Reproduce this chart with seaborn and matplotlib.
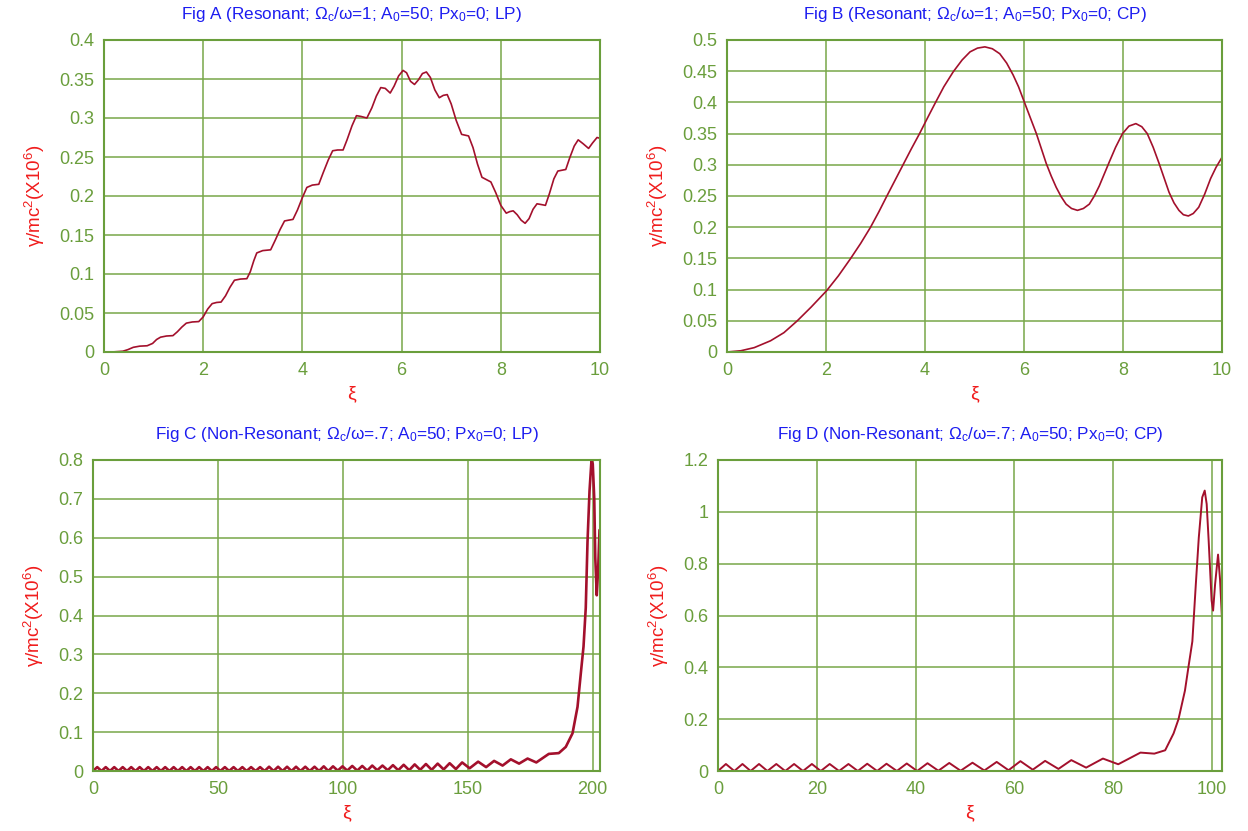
#!/usr/bin/env python3
# Four gamma vs xi panels (resonant / non-resonant, LP / CP), gnuplot look

import pandas as pd
import matplotlib
matplotlib.use('Agg')
import matplotlib.pyplot as plt
import seaborn as sns

# ---- Fig A: resonant, LP
xi_a = [0, 0.2, 0.38, 0.48, 0.59, 0.72, 0.87, 0.98, 1.06, 1.14, 1.26, 1.39, 1.48, 1.57,
        1.66, 1.78, 1.91, 2.0, 2.09, 2.18, 2.27, 2.36, 2.45, 2.54, 2.63, 2.75, 2.88,
        2.95, 3.02, 3.08, 3.2, 3.36, 3.45, 3.55, 3.64, 3.72, 3.81, 3.9, 4.0, 4.09,
        4.2, 4.33, 4.42, 4.52, 4.61, 4.71, 4.82, 4.9, 5.0, 5.09, 5.18, 5.30, 5.4,
        5.49, 5.58, 5.67, 5.77, 5.85, 5.94, 6.03, 6.1, 6.18, 6.26, 6.34, 6.42, 6.50,
        6.58, 6.67, 6.76, 6.84, 6.92, 7.0, 7.1, 7.21, 7.28, 7.35, 7.44, 7.53, 7.62,
        7.71, 7.80, 7.9, 8.0, 8.11, 8.18, 8.25, 8.33, 8.41, 8.49, 8.57, 8.65, 8.73,
        8.82, 8.90, 8.98, 9.07, 9.15, 9.23, 9.31, 9.39, 9.48, 9.56, 9.66, 9.77,
        9.85, 9.94, 10.0]
g_a = [0, 0.0002, 0.001, 0.003, 0.006, 0.0075, 0.008, 0.011, 0.016, 0.019, 0.0205, 0.021,
       0.026, 0.032, 0.037, 0.0385, 0.039, 0.045, 0.055, 0.062, 0.0635, 0.064, 0.072,
       0.083, 0.092, 0.0935, 0.094, 0.103, 0.117, 0.127, 0.130, 0.131, 0.143, 0.157,
       0.168, 0.169, 0.170, 0.182, 0.198, 0.211, 0.214, 0.215, 0.230, 0.246, 0.258,
       0.259, 0.259, 0.272, 0.290, 0.303, 0.302, 0.300, 0.313, 0.328, 0.339, 0.338,
       0.332, 0.341, 0.354, 0.361, 0.358, 0.347, 0.343, 0.349, 0.357, 0.359, 0.352,
       0.336, 0.326, 0.329, 0.330, 0.318, 0.297, 0.279, 0.278, 0.277, 0.262, 0.241,
       0.224, 0.221, 0.218, 0.204, 0.188, 0.178, 0.180, 0.181, 0.176, 0.169, 0.165,
       0.171, 0.183, 0.190, 0.189, 0.188, 0.203, 0.222, 0.232, 0.233, 0.234, 0.249,
       0.264, 0.272, 0.267, 0.261, 0.268, 0.275, 0.274]

# ---- Fig B: resonant, CP
xi_b = [0, 0.28, 0.55, 0.88, 1.15, 1.42, 1.7, 2.01, 2.25, 2.49, 2.7, 2.90, 3.07, 3.23,
        3.4, 3.55, 3.72, 3.89, 4.05, 4.20, 4.38, 4.57, 4.75, 4.91, 5.06, 5.21, 5.36,
        5.51, 5.65, 5.78, 5.89, 5.99, 6.12, 6.25, 6.35, 6.45, 6.55, 6.65, 6.75, 6.85,
        6.96, 7.08, 7.2, 7.32, 7.42, 7.52, 7.62, 7.72, 7.85, 7.99, 8.12, 8.26, 8.38,
        8.49, 8.61, 8.73, 8.83, 8.93, 9.03, 9.13, 9.22, 9.32, 9.42, 9.53, 9.65, 9.77,
        9.88, 10.0]
g_b = [0, 0.002, 0.007, 0.018, 0.031, 0.050, 0.072, 0.098, 0.122, 0.149, 0.174, 0.200,
       0.225, 0.250, 0.276, 0.299, 0.325, 0.350, 0.375, 0.398, 0.425, 0.449, 0.468,
       0.481, 0.487, 0.489, 0.486, 0.478, 0.463, 0.444, 0.425, 0.404, 0.377, 0.350,
       0.326, 0.302, 0.282, 0.264, 0.249, 0.237, 0.230, 0.227, 0.230, 0.237, 0.250,
       0.266, 0.285, 0.304, 0.328, 0.350, 0.362, 0.366, 0.361, 0.350, 0.328, 0.302,
       0.279, 0.256, 0.239, 0.227, 0.220, 0.218, 0.222, 0.232, 0.253, 0.278, 0.296, 0.312]

# ---- Fig C: non-resonant, LP  (ripple troughs / crests, then the blow-up)
c_trough_xi = [0, 3.4, 6.8, 10.2, 13.6, 17.0, 20.4, 23.8, 27.2, 30.6, 34.0, 37.4, 40.8,
               44.2, 47.6, 51.0, 54.5, 58.0, 61.5, 65.1, 68.7, 72.3, 75.9, 79.5, 83.1,
               86.8, 90.5, 94.2, 98.0, 101.8, 105.8, 109.8, 113.8, 118.0, 122.2, 126.6,
               131.0, 135.6, 140.4, 145.3, 150.8, 157.4, 164.0, 170.6, 177.5]
c_trough_g = [0, 0, 0, 0, 0, 0, 0, 0, 0, 0, 0, 0, 0,
              0, 0, 0, 0, 0, 0, 0, 0, 0, 0, 0, 0,
              0, 0, 0, 0.001, 0.001, 0.001, 0.001, 0.002, 0.002, 0.002, 0.002,
              0.003, 0.003, 0.004, 0.005, 0.007, 0.010, 0.014, 0.019, 0.022]
c_crest_xi = [1.7, 5.1, 8.5, 11.9, 15.3, 18.7, 22.1, 25.5, 28.9, 32.3, 35.7, 39.1,
              42.5, 45.9, 49.3, 52.8, 56.3, 59.8, 63.3, 66.9, 70.5, 74.1, 77.7, 81.3,
              85.0, 88.7, 92.4, 96.1, 99.9, 103.8, 107.8, 111.8, 115.9, 120.1, 124.4,
              128.8, 133.3, 138.0, 142.8, 147.8, 154.2, 160.6, 167.3, 174.0]
c_crest_g = [0.010, 0.010, 0.010, 0.010, 0.010, 0.010, 0.010, 0.010, 0.010, 0.010, 0.010, 0.010,
             0.010, 0.010, 0.010, 0.010, 0.010, 0.010, 0.010, 0.010, 0.011, 0.011, 0.011, 0.011,
             0.011, 0.011, 0.012, 0.012, 0.012, 0.013, 0.013, 0.014, 0.014, 0.015, 0.016,
             0.017, 0.018, 0.019, 0.020, 0.022, 0.024, 0.026, 0.030, 0.032]
c_tail_xi = [182.5, 186.5, 189.3, 192.0, 194.0, 195.3, 196.4, 197.3, 198.0, 198.8,
             199.6, 200.1, 200.7, 201.1, 201.7, 202.3, 202.8]
c_tail_g = [0.044, 0.046, 0.062, 0.097, 0.165, 0.25, 0.32, 0.42, 0.59, 0.72,
            0.80, 0.79, 0.70, 0.55, 0.452, 0.525, 0.62]

# ---- Fig D: non-resonant, CP
d_trough_xi = [0, 3.3, 6.6, 10.0, 13.6, 17.2, 20.8, 24.5, 28.3, 32.2, 36.2, 40.3,
               44.6, 49.1, 53.9, 58.8, 63.7, 68.9, 74.5, 81.0]
d_trough_g = [0, 0, 0, 0, 0, 0, 0, 0, 0, 0, 0, 0,
              0.001, 0.001, 0.002, 0.003, 0.005, 0.008, 0.013, 0.026]
d_crest_xi = [1.6, 4.95, 8.3, 11.8, 15.4, 19.0, 22.6, 26.4, 30.2, 34.1, 38.2, 42.4,
              46.8, 51.5, 56.4, 61.2, 66.2, 71.5, 77.9]
d_crest_g = [0.027, 0.027, 0.027, 0.027, 0.027, 0.027, 0.027, 0.027, 0.028, 0.028, 0.029, 0.030,
             0.031, 0.032, 0.035, 0.038, 0.039, 0.042, 0.048]
d_tail_xi = [85.5, 88.3, 90.5, 92.2, 93.2, 94.5, 95.2, 96.0, 96.7, 97.3, 98.0, 98.5,
             98.9, 99.3, 99.9, 100.2, 100.6, 101.2, 101.6, 102.0]
d_tail_g = [0.071, 0.067, 0.080, 0.145, 0.200, 0.310, 0.400, 0.500, 0.720, 0.900, 1.056, 1.082,
            1.030, 0.889, 0.657, 0.619, 0.720, 0.835, 0.740, 0.587]


def ripple_frame(tr_x, tr_g, cr_x, cr_g, tail_x, tail_g):
    df = pd.DataFrame({'xi': tr_x + cr_x + tail_x, 'g': tr_g + cr_g + tail_g})
    return df.sort_values('xi').reset_index(drop=True)


df_a = pd.DataFrame({'xi': xi_a, 'g': g_a})
df_b = pd.DataFrame({'xi': xi_b, 'g': g_b})
df_c = ripple_frame(c_trough_xi, c_trough_g, c_crest_xi, c_crest_g, c_tail_xi, c_tail_g)
df_d = ripple_frame(d_trough_xi, d_trough_g, d_crest_xi, d_crest_g, d_tail_xi, d_tail_g)

titles = ['Fig A (Resonant; Ω$_c$/ω=1; A$_0$=50; Px$_0$=0; LP)',
          'Fig B (Resonant; Ω$_c$/ω=1; A$_0$=50; Px$_0$=0; CP)',
          'Fig C (Non-Resonant; Ω$_c$/ω=.7; A$_0$=50; Px$_0$=0; LP)',
          'Fig D (Non-Resonant; Ω$_c$/ω=.7; A$_0$=50; Px$_0$=0; CP)']

# colours
GREEN = '#6a9e3c'
GRID = '#78a84a'
BLUE = '#1c1cf0'
RED = '#f01c1c'
LINE = '#a3102c'

sns.set_style('white')
plt.rcParams['font.family'] = ['Liberation Sans', 'DejaVu Sans']
plt.rcParams['mathtext.fontset'] = 'custom'
plt.rcParams['mathtext.rm'] = 'Liberation Sans'
plt.rcParams['mathtext.default'] = 'regular'

fig = plt.figure(figsize=(12.48, 8.31), dpi=100)
# axes boxes measured in pixels: left, right, top, bottom
boxes = [(104, 600, 40, 352), (727, 1222, 40, 352),
         (93, 600, 460, 771), (718, 1222, 460, 771)]
W, H = 1248, 831

panels = [
    (df_a, (0, 10), range(0, 11, 2), 0.4, 0.05, 1.2),
    (df_b, (0, 10), range(0, 11, 2), 0.5, 0.05, 1.2),
    (df_c, (0, 203), range(0, 201, 50), 0.8, 0.1, 1.9),
    (df_d, (0, 102), range(0, 101, 20), 1.2, 0.2, 1.4),
]

for (l, r, t, b), (df, xlim, xt, ymax, ystep, lw), title in zip(boxes, panels, titles):
    ax = fig.add_axes([l / W, 1 - b / H, (r - l) / W, (b - t) / H])
    sns.lineplot(data=df, x='xi', y='g', ax=ax, color=LINE, linewidth=lw,
                 sort=False, estimator=None, solid_joinstyle='round')
    ax.set_xlim(*xlim)
    ax.set_ylim(0, ymax)
    ax.set_xticks(list(xt))
    n = int(round(ymax / ystep))
    yt = [round(i * ystep, 2) for i in range(n + 1)]
    ax.set_yticks(yt)
    ax.set_yticklabels([f'{v:g}' for v in yt])
    ax.grid(True, color=GRID, linewidth=1.3, alpha=0.85)
    for s in ax.spines.values():
        s.set_color(GREEN)
        s.set_linewidth(1.5)
    ax.tick_params(colors=GREEN, labelsize=13, length=0, pad=7)
    ax.set_title(title, color=BLUE, fontsize=12.3, pad=15)
    ax.set_xlabel('ξ', color=RED, fontsize=14, labelpad=5)
    ax.set_ylabel('γ/mc$^2$(X10$^6$)', color=RED, fontsize=13.5, labelpad=9)

plt.savefig('out.png', dpi=100)
